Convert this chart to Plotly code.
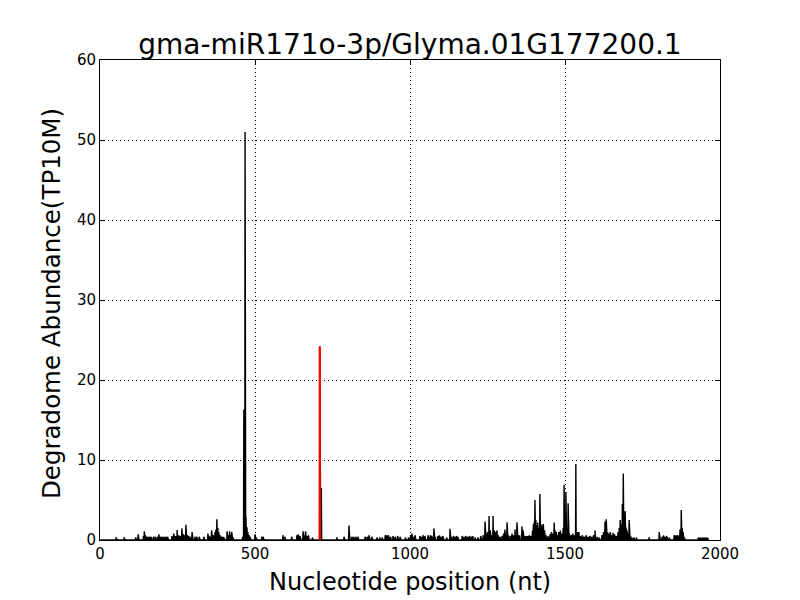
import plotly.graph_objects as go

title_text = "gma-miR171o-3p/Glyma.01G177200.1"
x_label = "Nucleotide position (nt)"
y_label = "Degradome Abundance(TP10M)"
transcript_length = 1962

# Non-zero degradome tag positions (nt) and abundances (TP10M)
tag_positions = [
    52, 78, 115, 123, 140, 143, 146, 150, 155, 160, 165, 172, 178, 185, 190, 194, 200, 206, 212, 218,
    232, 238, 244, 249, 254, 260, 264, 269, 273, 277, 282, 286, 290, 297, 306, 312, 320, 335, 348, 352,
    356, 360, 364, 367, 371, 374, 377, 380, 383, 387, 393, 397, 400, 410, 414, 418, 422, 425, 430, 460,
    464, 468, 471, 474, 477, 480, 484, 500, 505, 522, 526,
    590, 596, 618, 635, 640, 645, 655, 659, 663, 668, 672, 685, 709, 714, 764, 787, 803, 812, 818, 825,
    832, 855, 862, 868, 877, 893, 902, 910, 920, 925, 930, 937, 945, 952, 960, 968, 985, 995,
    1002, 1006, 1012, 1016, 1032, 1038, 1042, 1048, 1058, 1062, 1066, 1070, 1077, 1082, 1090, 1095, 1100,
    1106, 1118, 1129, 1134, 1140, 1145, 1150, 1155, 1168, 1174, 1180, 1186, 1192, 1198, 1203,
    1210, 1219, 1228, 1236, 1242, 1246, 1250, 1255, 1259, 1263, 1268, 1272, 1276, 1280, 1284, 1290, 1297,
    1302, 1306, 1310, 1313, 1318, 1324, 1329, 1334, 1339, 1345, 1349, 1354, 1361, 1365, 1370, 1375, 1380,
    1385, 1390, 1395, 1398, 1401, 1403, 1406, 1409, 1412, 1415, 1419, 1422, 1426, 1430, 1434, 1438, 1445,
    1452, 1456, 1461, 1465, 1468, 1472, 1476, 1480, 1485, 1490, 1494, 1497, 1500, 1503, 1506, 1510, 1514,
    1520, 1525, 1530, 1535, 1540, 1545, 1550, 1556, 1562, 1568, 1574, 1580, 1586, 1592, 1597, 1603, 1610,
    1619, 1624, 1629, 1633, 1637, 1642, 1646, 1650, 1655, 1660, 1666, 1671, 1675, 1678, 1682, 1685, 1688,
    1691, 1694, 1697, 1700, 1704, 1707, 1711, 1716, 1722, 1730, 1771, 1804, 1813, 1818, 1822, 1828, 1836,
    1852, 1857, 1862, 1868, 1871, 1875, 1878, 1881, 1885, 1930, 1936, 1942, 1948, 1954, 1960,
]
tag_values = [
    0.33, 0.33, 0.33, 0.7, 0.5, 1.1, 0.6, 0.4, 0.4, 0.4, 0.4, 0.4, 0.4, 0.4, 0.7, 0.4, 0.4, 0.4, 0.4, 0.4,
    0.5, 0.8, 0.5, 1.25, 0.6, 0.5, 1.45, 0.7, 0.6, 1.9, 0.6, 0.5, 0.4, 1.0, 0.4, 0.4, 0.4, 0.4, 0.8, 0.5,
    0.4, 1.2, 0.6, 0.6, 1.0, 1.3, 2.6, 1.5, 1.0, 0.6, 0.4, 0.4, 0.3, 1.1, 0.6, 1.1, 0.6, 1.0, 0.3, 0.4,
    16.3, 51.0, 2.9, 1.6, 1.0, 0.6, 0.4, 0.7, 0.3, 0.4, 0.4,
    0.6, 0.4, 0.4, 0.6, 0.7, 0.5, 1.1, 0.6, 1.1, 0.5, 0.6, 0.3, 24.2, 6.5, 0.3, 0.4, 1.8, 0.4, 0.4, 0.4,
    0.4, 0.4, 0.4, 0.6, 0.4, 0.3, 0.3, 0.3, 0.6, 0.6, 0.6, 0.4, 0.5, 0.4, 0.5, 0.4, 0.3, 0.3,
    0.6, 0.8, 0.4, 0.6, 0.5, 0.4, 0.6, 0.5, 0.6, 0.4, 0.6, 0.5, 1.45, 0.4, 0.5, 0.6, 0.4,
    0.5, 0.3, 1.4, 0.4, 0.5, 0.4, 0.5, 0.4, 0.5, 0.4, 0.5, 0.4, 0.5, 0.4, 0.5,
    0.3, 0.3, 0.5, 0.6, 2.3, 0.8, 1.0, 3.0, 1.2, 0.6, 3.0, 1.2, 1.0, 1.2, 0.6, 0.4, 0.5,
    0.8, 1.3, 0.6, 2.2, 0.6, 0.5, 0.8, 0.6, 1.3, 2.2, 0.6, 0.6, 1.7, 1.2, 0.5, 0.5, 0.5,
    0.6, 0.5, 1.2, 2.0, 2.3, 5.0, 2.5, 1.8, 2.2, 1.5, 5.75, 2.0, 1.8, 2.0, 1.2, 0.6, 0.5,
    0.7, 1.0, 0.8, 2.2, 1.2, 1.0, 0.6, 1.0, 1.2, 0.8, 1.5, 6.9, 2.5, 6.0, 1.5, 4.6, 0.8,
    0.6, 0.8, 0.6, 9.5, 1.0, 1.0, 0.5, 0.6, 0.4, 0.6, 0.4, 0.5, 0.4, 0.6, 1.2, 0.4, 0.3,
    0.6, 1.0, 2.3, 2.6, 1.0, 0.8, 1.0, 0.6, 0.9, 0.7, 0.5, 1.0, 1.5, 2.5, 2.0, 4.5, 8.3,
    3.0, 3.6, 1.6, 1.2, 0.8, 2.5, 0.5, 0.3, 0.3, 0.3, 0.3, 1.0, 0.4, 0.6, 0.4, 0.5, 0.3,
    0.6, 0.6, 0.6, 0.6, 1.3, 3.75, 1.5, 1.0, 0.3, 0.3, 0.3, 0.3, 0.3, 0.3, 0.3,
]

# Cleavage site (miRNA target site)
cleavage_position = 709
cleavage_value = 24.2

x_ticks = [0, 500, 1000, 1500, 2000]
y_ticks = [0, 10, 20, 30, 40, 50, 60]

# Dense per-nucleotide profile (zeros where no tags)
abund = {p: v for p, v in zip(tag_positions, tag_values)}
xs = list(range(1, transcript_length + 1))
ys = [abund.get(p, 0.0) for p in xs]

fig = go.Figure()
fig.add_trace(go.Scatter(x=xs, y=ys, mode="lines",
                         line=dict(color="black", width=1.4), hoverinfo="skip"))
fig.add_trace(go.Scatter(x=[cleavage_position, cleavage_position], y=[0, cleavage_value],
                         mode="lines", line=dict(color="red", width=2.2), hoverinfo="skip"))

font_family = "DejaVu Sans"
axis_common = dict(
    showline=True, linecolor="black", linewidth=1, mirror="allticks",
    ticks="inside", ticklen=5, tickcolor="black", tickwidth=1,
    showgrid=True, gridcolor="black", gridwidth=1, griddash="1px,3px",
    zeroline=False, automargin=False,
    tickfont=dict(family=font_family, size=15, color="black"),
)

# page body has an 8px margin: figure is 792x592 placed at (8,8)
fig.update_layout(
    width=792, height=592,
    margin=dict(l=92, r=80, t=52, b=60),
    paper_bgcolor="white", plot_bgcolor="white",
    showlegend=False,
    title=dict(text=title_text, xref="paper", x=0.5, xanchor="center", y=1 - 36 / 592, yanchor="middle",
               font=dict(family=font_family, size=28, color="black")),
    xaxis=dict(range=[0, 2000], tickvals=x_ticks, ticktext=[str(t) for t in x_ticks], **axis_common),
    yaxis=dict(range=[0, 60], tickvals=y_ticks, ticktext=[str(t) for t in y_ticks], **axis_common),
    annotations=[
        dict(text=x_label, xref="paper", yref="paper", x=0.5, y=-0.0875,
             xanchor="center", yanchor="middle", showarrow=False,
             font=dict(family=font_family, size=24, color="black")),
        dict(text=y_label, xref="paper", yref="paper", x=-0.0774, y=0.4917,
             xanchor="center", yanchor="middle", showarrow=False, textangle=-90,
             font=dict(family=font_family, size=24.5, color="black")),
    ],
)

fig.write_html("out.html", config={"displayModeBar": False})
